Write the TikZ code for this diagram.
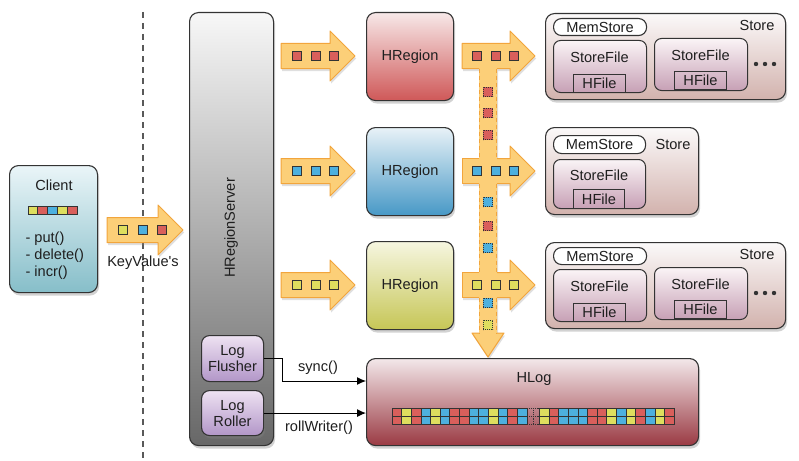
\documentclass[tikz,border=0pt]{standalone}
\usepackage{fontspec}
\setmainfont{Liberation Sans}
\usetikzlibrary{shadows,arrows.meta}
\definecolor{arrfill}{HTML}{FCCF78}
\definecolor{arrline}{HTML}{F2A53C}
\definecolor{sqR}{HTML}{D95F5B}
\definecolor{sqY}{HTML}{DEDE5E}
\definecolor{sqB}{HTML}{4DB0DE}
\definecolor{edge}{HTML}{333333}
\definecolor{cliTop}{HTML}{EAF5F8}
\definecolor{cliBot}{HTML}{86BEC9}
\definecolor{srvTop}{HTML}{F7F7F7}
\definecolor{srvBot}{HTML}{676767}
\definecolor{logTop}{HTML}{EEE2F2}
\definecolor{logBot}{HTML}{B296C8}
\definecolor{redTop}{HTML}{F7E8E8}
\definecolor{redBot}{HTML}{CF5858}
\definecolor{bluTop}{HTML}{E8F2F7}
\definecolor{bluBot}{HTML}{4798C6}
\definecolor{yelTop}{HTML}{F6F6E0}
\definecolor{yelBot}{HTML}{C6C656}
\definecolor{stTop}{HTML}{FBF9F9}
\definecolor{stBot}{HTML}{D2B2AD}
\definecolor{sfTop}{HTML}{FAF4F6}
\definecolor{sfBot}{HTML}{C7A0B5}
\definecolor{hlTop}{HTML}{F3E8EA}
\definecolor{hlBot}{HTML}{9A3A43}
\newcommand\fatarrow[4]{% x0, xhead, xtip, ycenter
  \path[arrowpath] ({#1},{#4-12.5}) -- ({#2},{#4-12.5}) -- ({#2},{#4-25}) -- ({#3},{#4})
    -- ({#2},{#4+25}) -- ({#2},{#4+12.5}) -- ({#1},{#4+12.5}) -- cycle;}
\newcommand\bigstore[2]{%
  \begin{scope}[shift={(0,#2)}]
    \node[box, top color=stTop, bottom color=stBot, minimum width=240pt, minimum height=86pt] (#1) at (545,13) {};
    \node[mem] (#1m) at (553,18) {MemStore};
    \node at (757,25) {Store};
    \node[sfbox] (#1f1) at (553,40) {};
    \node at (599.5,57) {StoreFile};
    \node[hf] (#1h1) at (573,74) {HFile};
    \node[sfbox] (#1f2) at (654,38) {};
    \node at (700.5,55) {StoreFile};
    \node[hf] (#1h2) at (674,71) {HFile};
    \foreach \dx in {756,765,774} \fill[edge] (\dx,64) circle (2.2pt);
  \end{scope}}
\begin{document}
\begin{tikzpicture}[x=1pt,y=-1pt,
  font=\fontsize{14.6}{16}\selectfont, text=black!88,
  box/.style={draw=edge, line width=1.1pt, rounded corners=9pt, anchor=north west, inner sep=0pt,
    drop shadow={opacity=0.35, shadow xshift=1.5pt, shadow yshift=-3pt}},
  mem/.style={draw=edge, line width=1.1pt, rounded corners=8pt, fill=white, anchor=north west,
    minimum width=93pt, minimum height=17pt, inner sep=0pt},
  sfbox/.style={draw=edge, line width=1pt, rounded corners=7pt, anchor=north west,
    top color=sfTop, bottom color=sfBot, minimum width=93pt, minimum height=52pt, inner sep=0pt},
  hf/.style={draw=edge, line width=1pt, anchor=north west, minimum width=52pt, minimum height=18pt, inner sep=0pt},
  sq/.style={draw=edge, line width=0.9pt, minimum size=9.5pt, inner sep=0pt},
  dsq/.style={draw=edge, densely dotted, line width=0.9pt, minimum size=9.5pt, inner sep=0pt},
  arrowpath/.style={fill=arrfill, draw=arrline, line width=1pt, line join=round,
    drop shadow={opacity=0.25, shadow xshift=1pt, shadow yshift=-2.5pt}},
  conn/.style={draw=black, line width=1pt, -{Latex[length=9pt,width=8pt]}}]
\useasboundingbox (0,0) rectangle (799,460);
\fill[white] (0,0) rectangle (799,460);

% divider
\draw[black!65, line width=1.4pt, dash pattern=on 6pt off 5pt] (143,12) -- (143,460);

% client
\node[box, top color=cliTop, bottom color=cliBot, minimum width=88pt, minimum height=127pt] (client) at (9,165) {};
\node (clientt) at (54,185) {Client};
\foreach \c [count=\i from 0] in {sqY,sqR,sqB,sqY,sqR}
  \filldraw[fill=\c, draw=edge, line width=0.8pt] ({28+\i*9.8},206) rectangle ++(9.8,8);
\node[anchor=west] (put) at (22,239) {- put()};
\node[anchor=west] (del) at (22,256) {- delete()};
\node[anchor=west] (inc) at (22,273) {- incr()};

% KeyValue arrow
\fatarrow{107}{158}{183}{230}
\node[sq, fill=sqY] at (123,230) {};
\node[sq, fill=sqB] at (143,230) {};
\node[sq, fill=sqR] at (162,230) {};
\node (kv) at (143,263) {KeyValue\textquotesingle s};

% HRegionServer
\node[box, top color=srvTop, bottom color=srvBot, minimum width=84pt, minimum height=433pt] (hrs) at (189,12) {};
\node[rotate=90] (hrst) at (231,228) {HRegionServer};
\node[box, rounded corners=8pt, top color=logTop, bottom color=logBot, minimum width=62pt, minimum height=46pt,
  drop shadow={opacity=0.3, shadow xshift=1pt, shadow yshift=-2pt}] (lf) at (201,335) {};
\node[align=center] at (lf.center) {Log\\Flusher};
\node[box, rounded corners=8pt, top color=logTop, bottom color=logBot, minimum width=62pt, minimum height=45pt,
  drop shadow={opacity=0.3, shadow xshift=1pt, shadow yshift=-2pt}] (lr) at (201,390) {};
\node[align=center] at (lr.center) {Log\\Roller};

% left arrows
\foreach \yc/\c in {56/sqR,171/sqB,285/sqY}{
  \fatarrow{281}{330}{355}{\yc}
  \foreach \xc in {297,316,334} \node[sq, fill=\c] at (\xc,\yc) {};
}

% regions
\node[box, top color=redTop, bottom color=redBot, minimum width=87pt, minimum height=88pt] (r1) at (366,12) {};
\node at (r1.center) {HRegion};
\node[box, top color=bluTop, bottom color=bluBot, minimum width=87pt, minimum height=88pt] (r2) at (366,127) {};
\node at (r2.center) {HRegion};
\node[box, top color=yelTop, bottom color=yelBot, minimum width=87pt, minimum height=88pt] (r3) at (366,241) {};
\node at (r3.center) {HRegion};

% combined right arrow with stem
\path[fill=arrfill, drop shadow={opacity=0.25, shadow xshift=1pt, shadow yshift=-2.5pt}]
  (462,43.5) -- (510,43.5) -- (510,31) -- (535,56) -- (510,81) -- (510,68.5) -- (497,68.5)
  -- (497,158.5) -- (510,158.5) -- (510,146) -- (535,171) -- (510,196) -- (510,183.5) -- (497,183.5)
  -- (497,272.5) -- (510,272.5) -- (510,260) -- (535,285) -- (510,310) -- (510,297.5) -- (497,297.5)
  -- (497,333) -- (504,333) -- (488,357) -- (472,333) -- (479,333)
  -- (479,297.5) -- (462,297.5) -- (462,272.5) -- (479,272.5)
  -- (479,183.5) -- (462,183.5) -- (462,158.5) -- (479,158.5)
  -- (479,68.5) -- (462,68.5) -- cycle;
\begin{scope}[draw=arrline, line width=1pt, line join=round]
  \draw (479,68.5) -- (462,68.5) -- (462,43.5) -- (510,43.5) -- (510,31) -- (535,56) -- (510,81) -- (510,68.5) -- (497,68.5);
  \foreach \yc in {171,285}{
    \draw (479,{\yc+12.5}) -- (462,{\yc+12.5}) -- (462,{\yc-12.5}) -- (479,{\yc-12.5});
    \draw (497,{\yc-12.5}) -- (510,{\yc-12.5}) -- (510,{\yc-25}) -- (535,\yc) -- (510,{\yc+25}) -- (510,{\yc+12.5}) -- (497,{\yc+12.5});
  }
  \draw (479,333) -- (472,333) -- (488,357) -- (504,333) -- (497,333);
  \draw[dash pattern=on 4pt off 3pt] (479.5,68.5) -- (479.5,158.5) (496.5,68.5) -- (496.5,158.5)
                (479.5,183.5) -- (479.5,272.5) (496.5,183.5) -- (496.5,272.5)
                (479.5,297.5) -- (479.5,333) (496.5,297.5) -- (496.5,333);
\end{scope}
\foreach \yc/\c in {56/sqR,171/sqB,285/sqY}
  \foreach \xc in {477,496,514} \node[sq, fill=\c] at (\xc,\yc) {};
\foreach \yy/\c in {92/sqR,113/sqR,135/sqR,202/sqB,226/sqR,248/sqB,303/sqB,325/sqY}
  \node[dsq, fill=\c] at (488,\yy) {};

% stores
\bigstore{s1}{0}
\bigstore{s3}{229}
\node[box, top color=stTop, bottom color=stBot, minimum width=153pt, minimum height=87pt] (s2) at (545,127) {};
\node[mem, minimum width=92pt, minimum height=18pt] (s2m) at (553,135) {MemStore};
\node at (673,144) {Store};
\node[sfbox, minimum width=92pt, minimum height=49pt] (s2f1) at (553,159) {};
\node at (599,175) {StoreFile};
\node[hf, minimum width=51pt, minimum height=19pt] (s2h1) at (573,189) {HFile};

% HLog
\node[box, top color=hlTop, bottom color=hlBot, minimum width=332pt, minimum height=87pt] (hlog) at (366,358) {};
\node at (534,379) {HLog};
\foreach \c [count=\i from 0] in {sqR,sqY,sqR,sqB,sqY,sqB,sqR,sqR,sqB,sqB,sqY,sqB,sqR,sqB}{
  \filldraw[fill=\c, draw=edge, line width=0.7pt] ({392+\i*9.64},408) rectangle ++(9.64,8);
  \filldraw[fill=\c, draw=edge, line width=0.7pt] ({392+\i*9.64},416) rectangle ++(9.64,8);
}
\foreach \c [count=\i from 0] in {sqY,sqR,sqB,sqB,sqB,sqR,sqR,sqY,sqB,sqY,sqR,sqB,sqY,sqR}{
  \filldraw[fill=\c, draw=edge, line width=0.7pt] ({539.3+\i*9.64},408) rectangle ++(9.64,8);
  \filldraw[fill=\c, draw=edge, line width=0.7pt] ({539.3+\i*9.64},416) rectangle ++(9.64,8);
}
\draw[edge, line width=1pt] (392,408) rectangle (527,424);
\draw[edge, line width=1pt] (539.3,408) rectangle (674.3,424);
\draw[edge, line width=0.9pt, densely dotted] (527,408) -- (539.3,408) (527,416) -- (539.3,416) (527,424) -- (539.3,424)
  (533,408) -- (533,424);

% connectors
\coordinate (sbend) at (282,381);
\draw[conn] (lf.east) -| (sbend) -- (sbend -| hlog.west);
\node at (318,368) {sync()};
\draw[conn] (lr.east) -- (lr.east -| hlog.west);
\node at (319,428) {rollWriter()};
\end{tikzpicture}
\end{document}
